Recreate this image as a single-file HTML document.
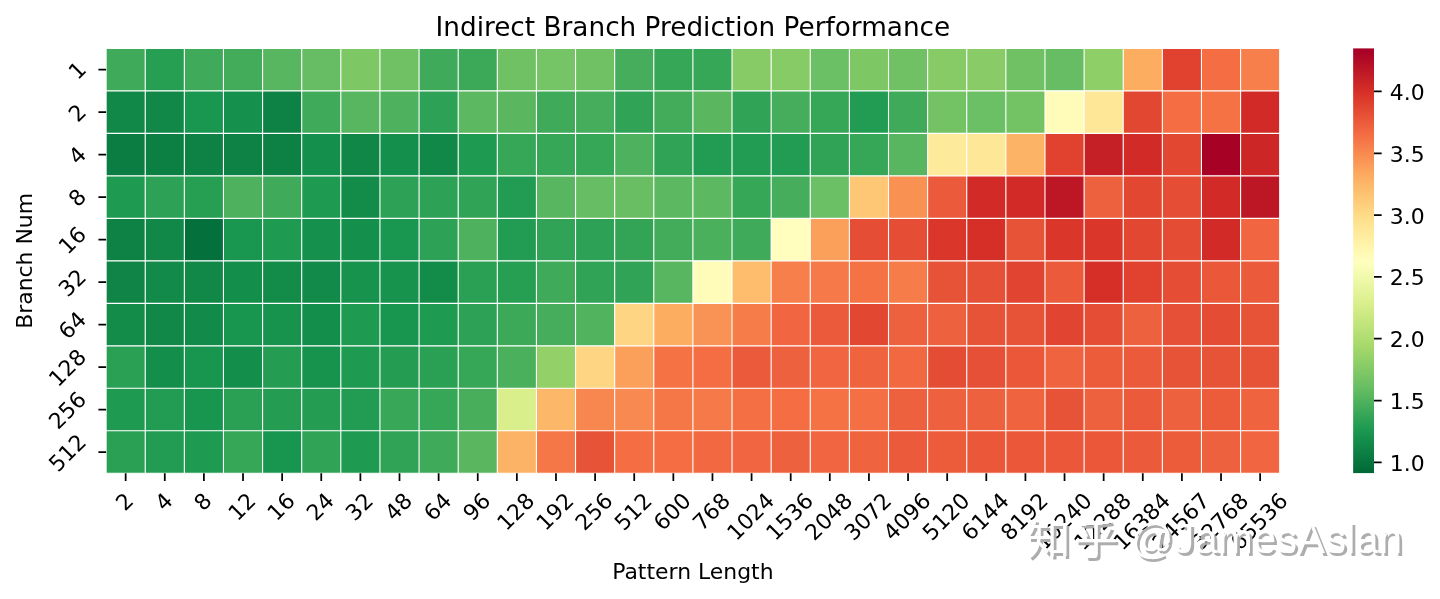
<!DOCTYPE html>
<html lang="en"><head><meta charset="utf-8"><title>Indirect Branch Prediction Performance</title>
<style>html,body{margin:0;padding:0;background:#fff}svg{display:block}</style></head>
<body>
<svg width="1440" height="599" viewBox="0 0 1440 599">
<rect width="1440" height="599" fill="#fff"/>
<g shape-rendering="auto">
<rect x="106.10" y="48.40" width="39.12" height="42.49" fill="#3faa59"/>
<rect x="145.22" y="48.40" width="39.12" height="42.49" fill="#279f53"/>
<rect x="184.34" y="48.40" width="39.12" height="42.49" fill="#3faa59"/>
<rect x="223.46" y="48.40" width="39.12" height="42.49" fill="#42ac5a"/>
<rect x="262.58" y="48.40" width="39.12" height="42.49" fill="#57b65f"/>
<rect x="301.70" y="48.40" width="39.12" height="42.49" fill="#66bd63"/>
<rect x="340.82" y="48.40" width="39.12" height="42.49" fill="#7dc765"/>
<rect x="379.94" y="48.40" width="39.12" height="42.49" fill="#70c164"/>
<rect x="419.06" y="48.40" width="39.12" height="42.49" fill="#3faa59"/>
<rect x="458.18" y="48.40" width="39.12" height="42.49" fill="#3ca959"/>
<rect x="497.30" y="48.40" width="39.12" height="42.49" fill="#70c164"/>
<rect x="536.42" y="48.40" width="39.12" height="42.49" fill="#75c465"/>
<rect x="575.54" y="48.40" width="39.12" height="42.49" fill="#70c164"/>
<rect x="614.66" y="48.40" width="39.12" height="42.49" fill="#45ad5b"/>
<rect x="653.78" y="48.40" width="39.12" height="42.49" fill="#36a657"/>
<rect x="692.90" y="48.40" width="39.12" height="42.49" fill="#36a657"/>
<rect x="732.02" y="48.40" width="39.12" height="42.49" fill="#87cb67"/>
<rect x="771.14" y="48.40" width="39.12" height="42.49" fill="#87cb67"/>
<rect x="810.26" y="48.40" width="39.12" height="42.49" fill="#6bbf64"/>
<rect x="849.38" y="48.40" width="39.12" height="42.49" fill="#7dc765"/>
<rect x="888.50" y="48.40" width="39.12" height="42.49" fill="#70c164"/>
<rect x="927.62" y="48.40" width="39.12" height="42.49" fill="#87cb67"/>
<rect x="966.74" y="48.40" width="39.12" height="42.49" fill="#89cc67"/>
<rect x="1005.86" y="48.40" width="39.12" height="42.49" fill="#70c164"/>
<rect x="1044.98" y="48.40" width="39.12" height="42.49" fill="#66bd63"/>
<rect x="1084.10" y="48.40" width="39.12" height="42.49" fill="#8ecf67"/>
<rect x="1123.22" y="48.40" width="39.12" height="42.49" fill="#fdad60"/>
<rect x="1162.34" y="48.40" width="39.12" height="42.49" fill="#e0422f"/>
<rect x="1201.46" y="48.40" width="39.12" height="42.49" fill="#f46d43"/>
<rect x="1240.58" y="48.40" width="39.12" height="42.49" fill="#f67f4b"/>
<rect x="106.10" y="90.89" width="39.12" height="42.49" fill="#118848"/>
<rect x="145.22" y="90.89" width="39.12" height="42.49" fill="#118848"/>
<rect x="184.34" y="90.89" width="39.12" height="42.49" fill="#199750"/>
<rect x="223.46" y="90.89" width="39.12" height="42.49" fill="#16914d"/>
<rect x="262.58" y="90.89" width="39.12" height="42.49" fill="#0e8245"/>
<rect x="301.70" y="90.89" width="39.12" height="42.49" fill="#3faa59"/>
<rect x="340.82" y="90.89" width="39.12" height="42.49" fill="#57b65f"/>
<rect x="379.94" y="90.89" width="39.12" height="42.49" fill="#4eb15d"/>
<rect x="419.06" y="90.89" width="39.12" height="42.49" fill="#2da155"/>
<rect x="458.18" y="90.89" width="39.12" height="42.49" fill="#5db961"/>
<rect x="497.30" y="90.89" width="39.12" height="42.49" fill="#5ab760"/>
<rect x="536.42" y="90.89" width="39.12" height="42.49" fill="#3faa59"/>
<rect x="575.54" y="90.89" width="39.12" height="42.49" fill="#45ad5b"/>
<rect x="614.66" y="90.89" width="39.12" height="42.49" fill="#30a356"/>
<rect x="653.78" y="90.89" width="39.12" height="42.49" fill="#42ac5a"/>
<rect x="692.90" y="90.89" width="39.12" height="42.49" fill="#5ab760"/>
<rect x="732.02" y="90.89" width="39.12" height="42.49" fill="#30a356"/>
<rect x="771.14" y="90.89" width="39.12" height="42.49" fill="#45ad5b"/>
<rect x="810.26" y="90.89" width="39.12" height="42.49" fill="#36a657"/>
<rect x="849.38" y="90.89" width="39.12" height="42.49" fill="#219c52"/>
<rect x="888.50" y="90.89" width="39.12" height="42.49" fill="#3faa59"/>
<rect x="927.62" y="90.89" width="39.12" height="42.49" fill="#73c264"/>
<rect x="966.74" y="90.89" width="39.12" height="42.49" fill="#6bbf64"/>
<rect x="1005.86" y="90.89" width="39.12" height="42.49" fill="#73c264"/>
<rect x="1044.98" y="90.89" width="39.12" height="42.49" fill="#fffcba"/>
<rect x="1084.10" y="90.89" width="39.12" height="42.49" fill="#fee797"/>
<rect x="1123.22" y="90.89" width="39.12" height="42.49" fill="#e24731"/>
<rect x="1162.34" y="90.89" width="39.12" height="42.49" fill="#f46d43"/>
<rect x="1201.46" y="90.89" width="39.12" height="42.49" fill="#f57245"/>
<rect x="1240.58" y="90.89" width="39.12" height="42.49" fill="#d22b27"/>
<rect x="106.10" y="133.38" width="39.12" height="42.49" fill="#0b7d42"/>
<rect x="145.22" y="133.38" width="39.12" height="42.49" fill="#0c7f43"/>
<rect x="184.34" y="133.38" width="39.12" height="42.49" fill="#0e8245"/>
<rect x="223.46" y="133.38" width="39.12" height="42.49" fill="#0e8245"/>
<rect x="262.58" y="133.38" width="39.12" height="42.49" fill="#0d8044"/>
<rect x="301.70" y="133.38" width="39.12" height="42.49" fill="#15904c"/>
<rect x="340.82" y="133.38" width="39.12" height="42.49" fill="#108647"/>
<rect x="379.94" y="133.38" width="39.12" height="42.49" fill="#15904c"/>
<rect x="419.06" y="133.38" width="39.12" height="42.49" fill="#118848"/>
<rect x="458.18" y="133.38" width="39.12" height="42.49" fill="#1e9a51"/>
<rect x="497.30" y="133.38" width="39.12" height="42.49" fill="#36a657"/>
<rect x="536.42" y="133.38" width="39.12" height="42.49" fill="#36a657"/>
<rect x="575.54" y="133.38" width="39.12" height="42.49" fill="#36a657"/>
<rect x="614.66" y="133.38" width="39.12" height="42.49" fill="#4eb15d"/>
<rect x="653.78" y="133.38" width="39.12" height="42.49" fill="#30a356"/>
<rect x="692.90" y="133.38" width="39.12" height="42.49" fill="#219c52"/>
<rect x="732.02" y="133.38" width="39.12" height="42.49" fill="#219c52"/>
<rect x="771.14" y="133.38" width="39.12" height="42.49" fill="#219c52"/>
<rect x="810.26" y="133.38" width="39.12" height="42.49" fill="#30a356"/>
<rect x="849.38" y="133.38" width="39.12" height="42.49" fill="#36a657"/>
<rect x="888.50" y="133.38" width="39.12" height="42.49" fill="#57b65f"/>
<rect x="927.62" y="133.38" width="39.12" height="42.49" fill="#feea9b"/>
<rect x="966.74" y="133.38" width="39.12" height="42.49" fill="#fee797"/>
<rect x="1005.86" y="133.38" width="39.12" height="42.49" fill="#fdb365"/>
<rect x="1044.98" y="133.38" width="39.12" height="42.49" fill="#e0422f"/>
<rect x="1084.10" y="133.38" width="39.12" height="42.49" fill="#c62027"/>
<rect x="1123.22" y="133.38" width="39.12" height="42.49" fill="#d22b27"/>
<rect x="1162.34" y="133.38" width="39.12" height="42.49" fill="#e24731"/>
<rect x="1201.46" y="133.38" width="39.12" height="42.49" fill="#a70226"/>
<rect x="1240.58" y="133.38" width="39.12" height="42.49" fill="#cc2627"/>
<rect x="106.10" y="175.87" width="39.12" height="42.49" fill="#1e9a51"/>
<rect x="145.22" y="175.87" width="39.12" height="42.49" fill="#2da155"/>
<rect x="184.34" y="175.87" width="39.12" height="42.49" fill="#279f53"/>
<rect x="223.46" y="175.87" width="39.12" height="42.49" fill="#4eb15d"/>
<rect x="262.58" y="175.87" width="39.12" height="42.49" fill="#3faa59"/>
<rect x="301.70" y="175.87" width="39.12" height="42.49" fill="#1e9a51"/>
<rect x="340.82" y="175.87" width="39.12" height="42.49" fill="#138c4a"/>
<rect x="379.94" y="175.87" width="39.12" height="42.49" fill="#2da155"/>
<rect x="419.06" y="175.87" width="39.12" height="42.49" fill="#2da155"/>
<rect x="458.18" y="175.87" width="39.12" height="42.49" fill="#30a356"/>
<rect x="497.30" y="175.87" width="39.12" height="42.49" fill="#219c52"/>
<rect x="536.42" y="175.87" width="39.12" height="42.49" fill="#57b65f"/>
<rect x="575.54" y="175.87" width="39.12" height="42.49" fill="#66bd63"/>
<rect x="614.66" y="175.87" width="39.12" height="42.49" fill="#69be63"/>
<rect x="653.78" y="175.87" width="39.12" height="42.49" fill="#5db961"/>
<rect x="692.90" y="175.87" width="39.12" height="42.49" fill="#5db961"/>
<rect x="732.02" y="175.87" width="39.12" height="42.49" fill="#36a657"/>
<rect x="771.14" y="175.87" width="39.12" height="42.49" fill="#45ad5b"/>
<rect x="810.26" y="175.87" width="39.12" height="42.49" fill="#6bbf64"/>
<rect x="849.38" y="175.87" width="39.12" height="42.49" fill="#fdc776"/>
<rect x="888.50" y="175.87" width="39.12" height="42.49" fill="#f99153"/>
<rect x="927.62" y="175.87" width="39.12" height="42.49" fill="#eb5a3a"/>
<rect x="966.74" y="175.87" width="39.12" height="42.49" fill="#d22b27"/>
<rect x="1005.86" y="175.87" width="39.12" height="42.49" fill="#d22b27"/>
<rect x="1044.98" y="175.87" width="39.12" height="42.49" fill="#bd1726"/>
<rect x="1084.10" y="175.87" width="39.12" height="42.49" fill="#ee613e"/>
<rect x="1123.22" y="175.87" width="39.12" height="42.49" fill="#e24731"/>
<rect x="1162.34" y="175.87" width="39.12" height="42.49" fill="#e54e35"/>
<rect x="1201.46" y="175.87" width="39.12" height="42.49" fill="#d22b27"/>
<rect x="1240.58" y="175.87" width="39.12" height="42.49" fill="#bd1726"/>
<rect x="106.10" y="218.36" width="39.12" height="42.49" fill="#0e8245"/>
<rect x="145.22" y="218.36" width="39.12" height="42.49" fill="#118848"/>
<rect x="184.34" y="218.36" width="39.12" height="42.49" fill="#04703b"/>
<rect x="223.46" y="218.36" width="39.12" height="42.49" fill="#199750"/>
<rect x="262.58" y="218.36" width="39.12" height="42.49" fill="#1e9a51"/>
<rect x="301.70" y="218.36" width="39.12" height="42.49" fill="#16914d"/>
<rect x="340.82" y="218.36" width="39.12" height="42.49" fill="#15904c"/>
<rect x="379.94" y="218.36" width="39.12" height="42.49" fill="#199750"/>
<rect x="419.06" y="218.36" width="39.12" height="42.49" fill="#2da155"/>
<rect x="458.18" y="218.36" width="39.12" height="42.49" fill="#4eb15d"/>
<rect x="497.30" y="218.36" width="39.12" height="42.49" fill="#219c52"/>
<rect x="536.42" y="218.36" width="39.12" height="42.49" fill="#30a356"/>
<rect x="575.54" y="218.36" width="39.12" height="42.49" fill="#2da155"/>
<rect x="614.66" y="218.36" width="39.12" height="42.49" fill="#33a456"/>
<rect x="653.78" y="218.36" width="39.12" height="42.49" fill="#42ac5a"/>
<rect x="692.90" y="218.36" width="39.12" height="42.49" fill="#4bb05c"/>
<rect x="732.02" y="218.36" width="39.12" height="42.49" fill="#3faa59"/>
<rect x="771.14" y="218.36" width="39.12" height="42.49" fill="#fffebe"/>
<rect x="810.26" y="218.36" width="39.12" height="42.49" fill="#fba05b"/>
<rect x="849.38" y="218.36" width="39.12" height="42.49" fill="#e54e35"/>
<rect x="888.50" y="218.36" width="39.12" height="42.49" fill="#e54e35"/>
<rect x="927.62" y="218.36" width="39.12" height="42.49" fill="#da362a"/>
<rect x="966.74" y="218.36" width="39.12" height="42.49" fill="#d62f27"/>
<rect x="1005.86" y="218.36" width="39.12" height="42.49" fill="#e75337"/>
<rect x="1044.98" y="218.36" width="39.12" height="42.49" fill="#da362a"/>
<rect x="1084.10" y="218.36" width="39.12" height="42.49" fill="#da362a"/>
<rect x="1123.22" y="218.36" width="39.12" height="42.49" fill="#e24731"/>
<rect x="1162.34" y="218.36" width="39.12" height="42.49" fill="#e44c34"/>
<rect x="1201.46" y="218.36" width="39.12" height="42.49" fill="#d22b27"/>
<rect x="1240.58" y="218.36" width="39.12" height="42.49" fill="#f16640"/>
<rect x="106.10" y="260.85" width="39.12" height="42.49" fill="#0f8446"/>
<rect x="145.22" y="260.85" width="39.12" height="42.49" fill="#128a49"/>
<rect x="184.34" y="260.85" width="39.12" height="42.49" fill="#118848"/>
<rect x="223.46" y="260.85" width="39.12" height="42.49" fill="#148e4b"/>
<rect x="262.58" y="260.85" width="39.12" height="42.49" fill="#138c4a"/>
<rect x="301.70" y="260.85" width="39.12" height="42.49" fill="#128a49"/>
<rect x="340.82" y="260.85" width="39.12" height="42.49" fill="#17934e"/>
<rect x="379.94" y="260.85" width="39.12" height="42.49" fill="#17934e"/>
<rect x="419.06" y="260.85" width="39.12" height="42.49" fill="#138c4a"/>
<rect x="458.18" y="260.85" width="39.12" height="42.49" fill="#2aa054"/>
<rect x="497.30" y="260.85" width="39.12" height="42.49" fill="#279f53"/>
<rect x="536.42" y="260.85" width="39.12" height="42.49" fill="#3faa59"/>
<rect x="575.54" y="260.85" width="39.12" height="42.49" fill="#30a356"/>
<rect x="614.66" y="260.85" width="39.12" height="42.49" fill="#30a356"/>
<rect x="653.78" y="260.85" width="39.12" height="42.49" fill="#57b65f"/>
<rect x="692.90" y="260.85" width="39.12" height="42.49" fill="#fffcba"/>
<rect x="732.02" y="260.85" width="39.12" height="42.49" fill="#fdbd6d"/>
<rect x="771.14" y="260.85" width="39.12" height="42.49" fill="#f67f4b"/>
<rect x="810.26" y="260.85" width="39.12" height="42.49" fill="#f67a49"/>
<rect x="849.38" y="260.85" width="39.12" height="42.49" fill="#f57245"/>
<rect x="888.50" y="260.85" width="39.12" height="42.49" fill="#f67c4a"/>
<rect x="927.62" y="260.85" width="39.12" height="42.49" fill="#e75337"/>
<rect x="966.74" y="260.85" width="39.12" height="42.49" fill="#e65036"/>
<rect x="1005.86" y="260.85" width="39.12" height="42.49" fill="#e14430"/>
<rect x="1044.98" y="260.85" width="39.12" height="42.49" fill="#eb5a3a"/>
<rect x="1084.10" y="260.85" width="39.12" height="42.49" fill="#d62f27"/>
<rect x="1123.22" y="260.85" width="39.12" height="42.49" fill="#e0422f"/>
<rect x="1162.34" y="260.85" width="39.12" height="42.49" fill="#e54e35"/>
<rect x="1201.46" y="260.85" width="39.12" height="42.49" fill="#ea5739"/>
<rect x="1240.58" y="260.85" width="39.12" height="42.49" fill="#eb5a3a"/>
<rect x="106.10" y="303.34" width="39.12" height="42.49" fill="#138c4a"/>
<rect x="145.22" y="303.34" width="39.12" height="42.49" fill="#118848"/>
<rect x="184.34" y="303.34" width="39.12" height="42.49" fill="#128a49"/>
<rect x="223.46" y="303.34" width="39.12" height="42.49" fill="#18954f"/>
<rect x="262.58" y="303.34" width="39.12" height="42.49" fill="#17934e"/>
<rect x="301.70" y="303.34" width="39.12" height="42.49" fill="#148e4b"/>
<rect x="340.82" y="303.34" width="39.12" height="42.49" fill="#1e9a51"/>
<rect x="379.94" y="303.34" width="39.12" height="42.49" fill="#18954f"/>
<rect x="419.06" y="303.34" width="39.12" height="42.49" fill="#1e9a51"/>
<rect x="458.18" y="303.34" width="39.12" height="42.49" fill="#2da155"/>
<rect x="497.30" y="303.34" width="39.12" height="42.49" fill="#3ca959"/>
<rect x="536.42" y="303.34" width="39.12" height="42.49" fill="#45ad5b"/>
<rect x="575.54" y="303.34" width="39.12" height="42.49" fill="#51b35e"/>
<rect x="614.66" y="303.34" width="39.12" height="42.49" fill="#fed683"/>
<rect x="653.78" y="303.34" width="39.12" height="42.49" fill="#fdad60"/>
<rect x="692.90" y="303.34" width="39.12" height="42.49" fill="#f99355"/>
<rect x="732.02" y="303.34" width="39.12" height="42.49" fill="#f67c4a"/>
<rect x="771.14" y="303.34" width="39.12" height="42.49" fill="#f16640"/>
<rect x="810.26" y="303.34" width="39.12" height="42.49" fill="#eb5a3a"/>
<rect x="849.38" y="303.34" width="39.12" height="42.49" fill="#e24731"/>
<rect x="888.50" y="303.34" width="39.12" height="42.49" fill="#ee613e"/>
<rect x="927.62" y="303.34" width="39.12" height="42.49" fill="#ee613e"/>
<rect x="966.74" y="303.34" width="39.12" height="42.49" fill="#e75337"/>
<rect x="1005.86" y="303.34" width="39.12" height="42.49" fill="#e75337"/>
<rect x="1044.98" y="303.34" width="39.12" height="42.49" fill="#e14430"/>
<rect x="1084.10" y="303.34" width="39.12" height="42.49" fill="#e54e35"/>
<rect x="1123.22" y="303.34" width="39.12" height="42.49" fill="#ee613e"/>
<rect x="1162.34" y="303.34" width="39.12" height="42.49" fill="#e65036"/>
<rect x="1201.46" y="303.34" width="39.12" height="42.49" fill="#e44c34"/>
<rect x="1240.58" y="303.34" width="39.12" height="42.49" fill="#e75337"/>
<rect x="106.10" y="345.83" width="39.12" height="42.49" fill="#2aa054"/>
<rect x="145.22" y="345.83" width="39.12" height="42.49" fill="#148e4b"/>
<rect x="184.34" y="345.83" width="39.12" height="42.49" fill="#18954f"/>
<rect x="223.46" y="345.83" width="39.12" height="42.49" fill="#148e4b"/>
<rect x="262.58" y="345.83" width="39.12" height="42.49" fill="#249d53"/>
<rect x="301.70" y="345.83" width="39.12" height="42.49" fill="#17934e"/>
<rect x="340.82" y="345.83" width="39.12" height="42.49" fill="#1e9a51"/>
<rect x="379.94" y="345.83" width="39.12" height="42.49" fill="#249d53"/>
<rect x="419.06" y="345.83" width="39.12" height="42.49" fill="#2aa054"/>
<rect x="458.18" y="345.83" width="39.12" height="42.49" fill="#36a657"/>
<rect x="497.30" y="345.83" width="39.12" height="42.49" fill="#4bb05c"/>
<rect x="536.42" y="345.83" width="39.12" height="42.49" fill="#93d168"/>
<rect x="575.54" y="345.83" width="39.12" height="42.49" fill="#fed683"/>
<rect x="614.66" y="345.83" width="39.12" height="42.49" fill="#fba05b"/>
<rect x="653.78" y="345.83" width="39.12" height="42.49" fill="#f57245"/>
<rect x="692.90" y="345.83" width="39.12" height="42.49" fill="#f46d43"/>
<rect x="732.02" y="345.83" width="39.12" height="42.49" fill="#eb5a3a"/>
<rect x="771.14" y="345.83" width="39.12" height="42.49" fill="#ee613e"/>
<rect x="810.26" y="345.83" width="39.12" height="42.49" fill="#f16640"/>
<rect x="849.38" y="345.83" width="39.12" height="42.49" fill="#ef633f"/>
<rect x="888.50" y="345.83" width="39.12" height="42.49" fill="#f26841"/>
<rect x="927.62" y="345.83" width="39.12" height="42.49" fill="#e44c34"/>
<rect x="966.74" y="345.83" width="39.12" height="42.49" fill="#e65036"/>
<rect x="1005.86" y="345.83" width="39.12" height="42.49" fill="#ea5739"/>
<rect x="1044.98" y="345.83" width="39.12" height="42.49" fill="#ef633f"/>
<rect x="1084.10" y="345.83" width="39.12" height="42.49" fill="#ec5c3b"/>
<rect x="1123.22" y="345.83" width="39.12" height="42.49" fill="#eb5a3a"/>
<rect x="1162.34" y="345.83" width="39.12" height="42.49" fill="#e75337"/>
<rect x="1201.46" y="345.83" width="39.12" height="42.49" fill="#e75337"/>
<rect x="1240.58" y="345.83" width="39.12" height="42.49" fill="#e75337"/>
<rect x="106.10" y="388.32" width="39.12" height="42.49" fill="#1e9a51"/>
<rect x="145.22" y="388.32" width="39.12" height="42.49" fill="#219c52"/>
<rect x="184.34" y="388.32" width="39.12" height="42.49" fill="#18954f"/>
<rect x="223.46" y="388.32" width="39.12" height="42.49" fill="#2aa054"/>
<rect x="262.58" y="388.32" width="39.12" height="42.49" fill="#249d53"/>
<rect x="301.70" y="388.32" width="39.12" height="42.49" fill="#249d53"/>
<rect x="340.82" y="388.32" width="39.12" height="42.49" fill="#219c52"/>
<rect x="379.94" y="388.32" width="39.12" height="42.49" fill="#39a758"/>
<rect x="419.06" y="388.32" width="39.12" height="42.49" fill="#36a657"/>
<rect x="458.18" y="388.32" width="39.12" height="42.49" fill="#48ae5c"/>
<rect x="497.30" y="388.32" width="39.12" height="42.49" fill="#d9ef8b"/>
<rect x="536.42" y="388.32" width="39.12" height="42.49" fill="#fdb768"/>
<rect x="575.54" y="388.32" width="39.12" height="42.49" fill="#f8864f"/>
<rect x="614.66" y="388.32" width="39.12" height="42.49" fill="#f88950"/>
<rect x="653.78" y="388.32" width="39.12" height="42.49" fill="#f57748"/>
<rect x="692.90" y="388.32" width="39.12" height="42.49" fill="#f67a49"/>
<rect x="732.02" y="388.32" width="39.12" height="42.49" fill="#f47044"/>
<rect x="771.14" y="388.32" width="39.12" height="42.49" fill="#f46d43"/>
<rect x="810.26" y="388.32" width="39.12" height="42.49" fill="#f57245"/>
<rect x="849.38" y="388.32" width="39.12" height="42.49" fill="#f47044"/>
<rect x="888.50" y="388.32" width="39.12" height="42.49" fill="#ee613e"/>
<rect x="927.62" y="388.32" width="39.12" height="42.49" fill="#ee613e"/>
<rect x="966.74" y="388.32" width="39.12" height="42.49" fill="#ee613e"/>
<rect x="1005.86" y="388.32" width="39.12" height="42.49" fill="#ef633f"/>
<rect x="1044.98" y="388.32" width="39.12" height="42.49" fill="#e75337"/>
<rect x="1084.10" y="388.32" width="39.12" height="42.49" fill="#ee613e"/>
<rect x="1123.22" y="388.32" width="39.12" height="42.49" fill="#eb5a3a"/>
<rect x="1162.34" y="388.32" width="39.12" height="42.49" fill="#ee613e"/>
<rect x="1201.46" y="388.32" width="39.12" height="42.49" fill="#ec5c3b"/>
<rect x="1240.58" y="388.32" width="39.12" height="42.49" fill="#ef633f"/>
<rect x="106.10" y="430.81" width="39.12" height="42.49" fill="#2aa054"/>
<rect x="145.22" y="430.81" width="39.12" height="42.49" fill="#219c52"/>
<rect x="184.34" y="430.81" width="39.12" height="42.49" fill="#1e9a51"/>
<rect x="223.46" y="430.81" width="39.12" height="42.49" fill="#36a657"/>
<rect x="262.58" y="430.81" width="39.12" height="42.49" fill="#18954f"/>
<rect x="301.70" y="430.81" width="39.12" height="42.49" fill="#30a356"/>
<rect x="340.82" y="430.81" width="39.12" height="42.49" fill="#1e9a51"/>
<rect x="379.94" y="430.81" width="39.12" height="42.49" fill="#30a356"/>
<rect x="419.06" y="430.81" width="39.12" height="42.49" fill="#3faa59"/>
<rect x="458.18" y="430.81" width="39.12" height="42.49" fill="#5ab760"/>
<rect x="497.30" y="430.81" width="39.12" height="42.49" fill="#fdb365"/>
<rect x="536.42" y="430.81" width="39.12" height="42.49" fill="#f57748"/>
<rect x="575.54" y="430.81" width="39.12" height="42.49" fill="#e75337"/>
<rect x="614.66" y="430.81" width="39.12" height="42.49" fill="#f46d43"/>
<rect x="653.78" y="430.81" width="39.12" height="42.49" fill="#f46d43"/>
<rect x="692.90" y="430.81" width="39.12" height="42.49" fill="#f26841"/>
<rect x="732.02" y="430.81" width="39.12" height="42.49" fill="#f16640"/>
<rect x="771.14" y="430.81" width="39.12" height="42.49" fill="#ee613e"/>
<rect x="810.26" y="430.81" width="39.12" height="42.49" fill="#f16640"/>
<rect x="849.38" y="430.81" width="39.12" height="42.49" fill="#ef633f"/>
<rect x="888.50" y="430.81" width="39.12" height="42.49" fill="#eb5a3a"/>
<rect x="927.62" y="430.81" width="39.12" height="42.49" fill="#ec5c3b"/>
<rect x="966.74" y="430.81" width="39.12" height="42.49" fill="#ea5739"/>
<rect x="1005.86" y="430.81" width="39.12" height="42.49" fill="#ea5739"/>
<rect x="1044.98" y="430.81" width="39.12" height="42.49" fill="#ea5739"/>
<rect x="1084.10" y="430.81" width="39.12" height="42.49" fill="#ea5739"/>
<rect x="1123.22" y="430.81" width="39.12" height="42.49" fill="#eb5a3a"/>
<rect x="1162.34" y="430.81" width="39.12" height="42.49" fill="#ec5c3b"/>
<rect x="1201.46" y="430.81" width="39.12" height="42.49" fill="#ee613e"/>
<rect x="1240.58" y="430.81" width="39.12" height="42.49" fill="#f16640"/>
</g>
<path d="M106.10 47.85V473.85M145.22 47.85V473.85M184.34 47.85V473.85M223.46 47.85V473.85M262.58 47.85V473.85M301.70 47.85V473.85M340.82 47.85V473.85M379.94 47.85V473.85M419.06 47.85V473.85M458.18 47.85V473.85M497.30 47.85V473.85M536.42 47.85V473.85M575.54 47.85V473.85M614.66 47.85V473.85M653.78 47.85V473.85M692.90 47.85V473.85M732.02 47.85V473.85M771.14 47.85V473.85M810.26 47.85V473.85M849.38 47.85V473.85M888.50 47.85V473.85M927.62 47.85V473.85M966.74 47.85V473.85M1005.86 47.85V473.85M1044.98 47.85V473.85M1084.10 47.85V473.85M1123.22 47.85V473.85M1162.34 47.85V473.85M1201.46 47.85V473.85M1240.58 47.85V473.85M1279.70 47.85V473.85M105.55 48.40H1280.25M105.55 90.89H1280.25M105.55 133.38H1280.25M105.55 175.87H1280.25M105.55 218.36H1280.25M105.55 260.85H1280.25M105.55 303.34H1280.25M105.55 345.83H1280.25M105.55 388.32H1280.25M105.55 430.81H1280.25M105.55 473.30H1280.25" stroke="#fff" stroke-width="1.10" fill="none"/>
<defs><linearGradient id="cb" x1="0" y1="1" x2="0" y2="0">
<stop offset="0.0000" stop-color="#006837"/>
<stop offset="0.0156" stop-color="#04703b"/>
<stop offset="0.0312" stop-color="#08773f"/>
<stop offset="0.0469" stop-color="#0c7f43"/>
<stop offset="0.0625" stop-color="#108647"/>
<stop offset="0.0781" stop-color="#148e4b"/>
<stop offset="0.0938" stop-color="#18954f"/>
<stop offset="0.1094" stop-color="#219c52"/>
<stop offset="0.1250" stop-color="#2da155"/>
<stop offset="0.1406" stop-color="#39a758"/>
<stop offset="0.1562" stop-color="#45ad5b"/>
<stop offset="0.1719" stop-color="#51b35e"/>
<stop offset="0.1875" stop-color="#5db961"/>
<stop offset="0.2031" stop-color="#69be63"/>
<stop offset="0.2188" stop-color="#73c264"/>
<stop offset="0.2344" stop-color="#7dc765"/>
<stop offset="0.2500" stop-color="#87cb67"/>
<stop offset="0.2656" stop-color="#91d068"/>
<stop offset="0.2812" stop-color="#9bd469"/>
<stop offset="0.2969" stop-color="#a5d86a"/>
<stop offset="0.3125" stop-color="#addc6f"/>
<stop offset="0.3281" stop-color="#b5df74"/>
<stop offset="0.3438" stop-color="#bde379"/>
<stop offset="0.3594" stop-color="#c5e67e"/>
<stop offset="0.3750" stop-color="#cdea83"/>
<stop offset="0.3906" stop-color="#d5ed88"/>
<stop offset="0.4062" stop-color="#dcf08f"/>
<stop offset="0.4219" stop-color="#e2f397"/>
<stop offset="0.4375" stop-color="#e8f59f"/>
<stop offset="0.4531" stop-color="#eef8a8"/>
<stop offset="0.4688" stop-color="#f4fab0"/>
<stop offset="0.4844" stop-color="#fafdb8"/>
<stop offset="0.5000" stop-color="#fffebe"/>
<stop offset="0.5156" stop-color="#fffab6"/>
<stop offset="0.5312" stop-color="#fff5ae"/>
<stop offset="0.5469" stop-color="#fff0a6"/>
<stop offset="0.5625" stop-color="#feeb9d"/>
<stop offset="0.5781" stop-color="#fee695"/>
<stop offset="0.5938" stop-color="#fee18d"/>
<stop offset="0.6094" stop-color="#feda86"/>
<stop offset="0.6250" stop-color="#fed27f"/>
<stop offset="0.6406" stop-color="#feca79"/>
<stop offset="0.6562" stop-color="#fdc372"/>
<stop offset="0.6719" stop-color="#fdbb6c"/>
<stop offset="0.6875" stop-color="#fdb365"/>
<stop offset="0.7031" stop-color="#fcaa5f"/>
<stop offset="0.7188" stop-color="#fba05b"/>
<stop offset="0.7344" stop-color="#fa9656"/>
<stop offset="0.7500" stop-color="#f88c51"/>
<stop offset="0.7656" stop-color="#f7814c"/>
<stop offset="0.7812" stop-color="#f57748"/>
<stop offset="0.7969" stop-color="#f46d43"/>
<stop offset="0.8125" stop-color="#ef633f"/>
<stop offset="0.8281" stop-color="#eb5a3a"/>
<stop offset="0.8438" stop-color="#e65036"/>
<stop offset="0.8594" stop-color="#e24731"/>
<stop offset="0.8750" stop-color="#dd3d2d"/>
<stop offset="0.8906" stop-color="#d93429"/>
<stop offset="0.9062" stop-color="#d22b27"/>
<stop offset="0.9219" stop-color="#ca2427"/>
<stop offset="0.9375" stop-color="#c21c27"/>
<stop offset="0.9531" stop-color="#bb1526"/>
<stop offset="0.9688" stop-color="#b30d26"/>
<stop offset="0.9844" stop-color="#ab0626"/>
<stop offset="1.0000" stop-color="#a50026"/>
</linearGradient></defs>
<rect x="1353.15" y="48.40" width="20.85" height="424.70" fill="url(#cb)"/>
<path d="M125.66 473.30v7.67M164.78 473.30v7.67M203.90 473.30v7.67M243.02 473.30v7.67M282.14 473.30v7.67M321.26 473.30v7.67M360.38 473.30v7.67M399.50 473.30v7.67M438.62 473.30v7.67M477.74 473.30v7.67M516.86 473.30v7.67M555.98 473.30v7.67M595.10 473.30v7.67M634.22 473.30v7.67M673.34 473.30v7.67M712.46 473.30v7.67M751.58 473.30v7.67M790.70 473.30v7.67M829.82 473.30v7.67M868.94 473.30v7.67M908.06 473.30v7.67M947.18 473.30v7.67M986.30 473.30v7.67M1025.42 473.30v7.67M1064.54 473.30v7.67M1103.66 473.30v7.67M1142.78 473.30v7.67M1181.90 473.30v7.67M1221.02 473.30v7.67M1260.14 473.30v7.67M106.10 69.64h-7.67M106.10 112.13h-7.67M106.10 154.62h-7.67M106.10 197.12h-7.67M106.10 239.61h-7.67M106.10 282.10h-7.67M106.10 324.58h-7.67M106.10 367.07h-7.67M106.10 409.56h-7.67M106.10 452.06h-7.67M1374.00 462.35h7.67M1374.00 400.54h7.67M1374.00 338.73h7.67M1374.00 276.92h7.67M1374.00 215.11h7.67M1374.00 153.30h7.67M1374.00 91.49h7.67" stroke="#000" stroke-width="1.75" fill="none"/>
<g font-family="'DejaVu Sans', 'Liberation Sans', sans-serif" fill="#000">
<text font-size="21.92" transform="translate(125.01 512.08) rotate(-45)">2</text>
<text font-size="21.92" transform="translate(164.13 512.08) rotate(-45)">4</text>
<text font-size="21.92" transform="translate(203.25 512.08) rotate(-45)">8</text>
<text font-size="21.92" transform="translate(237.44 521.94) rotate(-45)">12</text>
<text font-size="21.92" transform="translate(276.56 521.94) rotate(-45)">16</text>
<text font-size="21.92" transform="translate(315.68 521.94) rotate(-45)">24</text>
<text font-size="21.92" transform="translate(354.80 521.94) rotate(-45)">32</text>
<text font-size="21.92" transform="translate(393.92 521.94) rotate(-45)">48</text>
<text font-size="21.92" transform="translate(433.04 521.94) rotate(-45)">64</text>
<text font-size="21.92" transform="translate(472.16 521.94) rotate(-45)">96</text>
<text font-size="21.92" transform="translate(506.34 531.81) rotate(-45)">128</text>
<text font-size="21.92" transform="translate(545.46 531.81) rotate(-45)">192</text>
<text font-size="21.92" transform="translate(584.58 531.81) rotate(-45)">256</text>
<text font-size="21.92" transform="translate(623.70 531.81) rotate(-45)">512</text>
<text font-size="21.92" transform="translate(662.82 531.81) rotate(-45)">600</text>
<text font-size="21.92" transform="translate(701.94 531.81) rotate(-45)">768</text>
<text font-size="21.92" transform="translate(736.13 541.67) rotate(-45)">1024</text>
<text font-size="21.92" transform="translate(775.25 541.67) rotate(-45)">1536</text>
<text font-size="21.92" transform="translate(814.37 541.67) rotate(-45)">2048</text>
<text font-size="21.92" transform="translate(853.49 541.67) rotate(-45)">3072</text>
<text font-size="21.92" transform="translate(892.61 541.67) rotate(-45)">4096</text>
<text font-size="21.92" transform="translate(931.73 541.67) rotate(-45)">5120</text>
<text font-size="21.92" transform="translate(970.85 541.67) rotate(-45)">6144</text>
<text font-size="21.92" transform="translate(1009.97 541.67) rotate(-45)">8192</text>
<text font-size="21.92" transform="translate(1044.16 551.53) rotate(-45)">10240</text>
<text font-size="21.92" transform="translate(1083.28 551.53) rotate(-45)">12288</text>
<text font-size="21.92" transform="translate(1122.40 551.53) rotate(-45)">16384</text>
<text font-size="21.92" transform="translate(1161.52 551.53) rotate(-45)">24567</text>
<text font-size="21.92" transform="translate(1200.64 551.53) rotate(-45)">32768</text>
<text font-size="21.92" transform="translate(1239.76 551.53) rotate(-45)">65536</text>
<text font-size="21.92" text-anchor="middle" x="692.90" y="579.28">Pattern Length</text>
<text font-size="21.92" transform="translate(77.67 80.65) rotate(-45)">1</text>
<text font-size="21.92" transform="translate(77.67 123.14) rotate(-45)">2</text>
<text font-size="21.92" transform="translate(77.67 165.63) rotate(-45)">4</text>
<text font-size="21.92" transform="translate(77.67 208.12) rotate(-45)">8</text>
<text font-size="21.92" transform="translate(67.81 255.54) rotate(-45)">16</text>
<text font-size="21.92" transform="translate(67.81 298.03) rotate(-45)">32</text>
<text font-size="21.92" transform="translate(67.81 340.52) rotate(-45)">64</text>
<text font-size="21.92" transform="translate(57.95 387.94) rotate(-45)">128</text>
<text font-size="21.92" transform="translate(57.95 430.43) rotate(-45)">256</text>
<text font-size="21.92" transform="translate(57.95 472.92) rotate(-45)">512</text>
<text font-size="21.92" text-anchor="middle" transform="translate(31.84 260.85) rotate(-90)">Branch Num</text>
<text font-size="26.30" text-anchor="middle" x="692.90" y="35.85">Indirect Branch Prediction Performance</text>
<text font-size="21.92" x="1389.84" y="470.88">1.0</text>
<text font-size="21.92" x="1389.84" y="409.07">1.5</text>
<text font-size="21.92" x="1389.84" y="347.26">2.0</text>
<text font-size="21.92" x="1389.84" y="285.45">2.5</text>
<text font-size="21.92" x="1389.84" y="223.64">3.0</text>
<text font-size="21.92" x="1389.84" y="161.83">3.5</text>
<text font-size="21.92" x="1389.84" y="100.02">4.0</text>
</g>
<g font-family="'Liberation Sans', 'Noto Sans CJK SC', sans-serif">
<g fill="#adadad"><text transform="translate(1029.1 556.5) scale(1.08 1)" x="0 43.6" font-size="41">知乎</text><text x="1133.5" y="556.0" font-size="42">@JamesAslan</text></g>
<g fill="#fff"><text transform="translate(1026.3 553.7) scale(1.08 1)" x="0 43.6" font-size="41">知乎</text><text x="1130.7" y="553.2" font-size="42">@JamesAslan</text></g>
</g>
</svg>
</body></html>
